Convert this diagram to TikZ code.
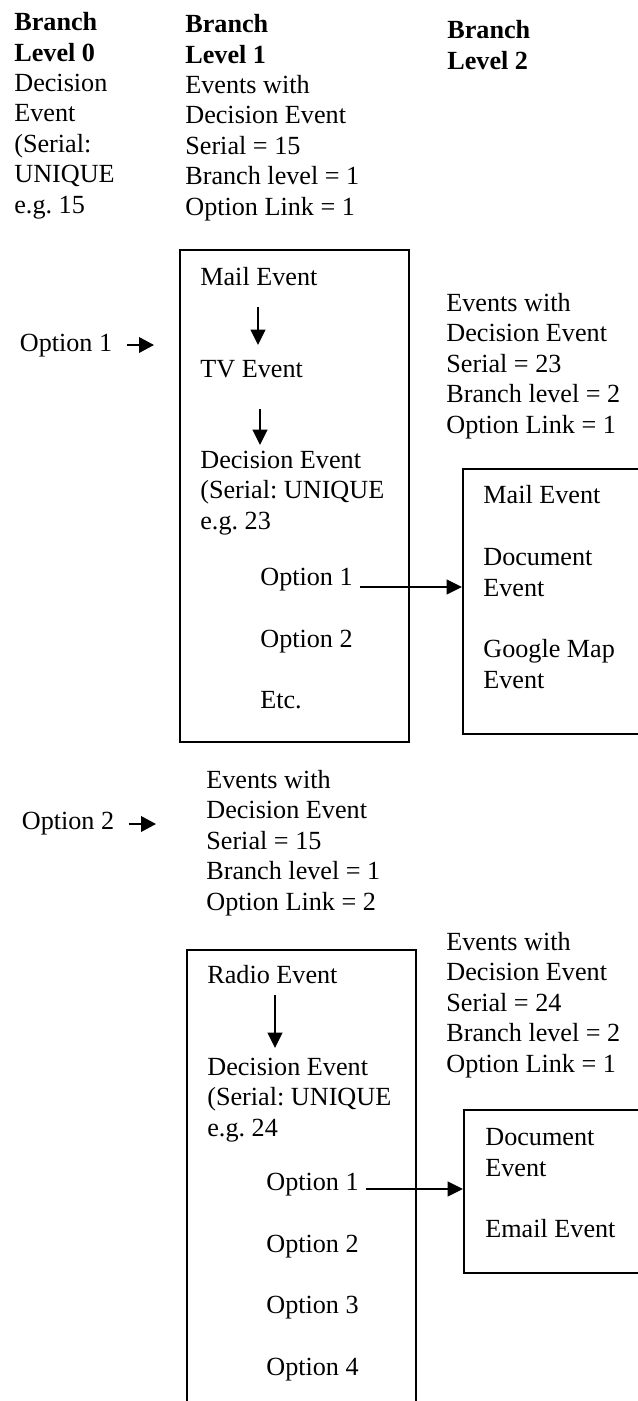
\documentclass[tikz,border=0pt]{standalone}
\usepackage{fontspec}
\setmainfont{Liberation Serif}
\usetikzlibrary{arrows.meta,calc}
\frenchspacing

\begin{document}
\begin{tikzpicture}[x=0.02cm, y=-0.02cm]
			\tikzset{texte/.style={anchor=base west, inner sep=0pt, align=left, font=\fontsize{14.9}{17.3}\selectfont},
				boite/.style={draw, line width=1.1pt, anchor=north west, inner sep=0pt},
				fleche/.style={-{Triangle[length=3.1mm, width=3mm]}, line width=0.9pt},
				flechecourte/.style={-{Triangle[length=3mm, width=3.1mm]}, line width=1.2pt}};

			\useasboundingbox (0,0) rectangle (637,1401);

			% en-tetes (base = derniere ligne)
			\node[texte] (h0) at ( 14, 213) {\textbf{Branch}\\\textbf{Level 0}\\Decision\\Event\\(Serial:\\UNIQUE\\e.g. 15};
			\node[texte] (h1) at (185, 215) {\textbf{Branch}\\\textbf{Level 1}\\Events with\\Decision Event\\Serial = 15\\Branch level = 1\\Option Link = 1};
			\node[texte] (h2) at (447,  69) {\textbf{Branch}\\\textbf{Level 2}};

			% option 1
			\node[texte] (opt1g) at (19.5, 351) {Option 1};
			\node[boite, minimum width=4.58cm, minimum height=9.84cm] (boite1) at (179, 249) {};
			\node[texte] (mail1) at (200, 285) {Mail Event};
			\node[texte] (tv1)   at (200, 377) {TV Event};
			\node[texte] (dec1)  at (200, 529) {Decision Event\\(Serial: UNIQUE\\e.g. 23};
			\node[texte] (o11)   at (260, 585) {Option 1};
			\node[texte] (o12)   at (260, 647) {Option 2};
			\node[texte] (etc1)  at (260, 708) {Etc.};

			\node[texte] (info1) at (446, 433) {Events with\\Decision Event\\Serial = 23\\Branch level = 2\\Option Link = 1};
			\node[boite, minimum width=4.76cm, minimum height=5.3cm] (boite2) at (462, 468) {};
			\node[texte] (mail2) at (483, 503) {Mail Event};
			\node[texte] (doc2)  at (483, 596) {Document\\Event};
			\node[texte] (gmap2) at (483, 688) {Google Map\\Event};

			% option 2
			\node[texte] (opt2g) at (21.5, 829) {Option 2};
			\node[texte] (info2) at (206, 910) {Events with\\Decision Event\\Serial = 15\\Branch level = 1\\Option Link = 2};
			\node[boite, minimum width=4.58cm, minimum height=10.1cm] (boite3) at (186, 949) {};
			\node[texte] (radio3) at (207, 983) {Radio Event};
			\node[texte] (dec3)   at (207, 1136) {Decision Event\\(Serial: UNIQUE\\e.g. 24};
			\node[texte] (o31)    at (266, 1190) {Option 1};
			\node[texte] (o32)    at (266, 1252) {Option 2};
			\node[texte] (o33)    at (266, 1313) {Option 3};
			\node[texte] (o34)    at (266, 1375) {Option 4};

			\node[texte] (info3) at (446, 1072) {Events with\\Decision Event\\Serial = 24\\Branch level = 2\\Option Link = 1};
			\node[boite, minimum width=4.76cm, minimum height=3.26cm] (boite4) at (463, 1109) {};
			\node[texte] (doc4)   at (485, 1176) {Document\\Event};
			\node[texte] (email4) at (485, 1237) {Email Event};

			\draw[flechecourte] ($(opt1g.base east)+(14,-6)$) -- ($(opt1g.base east -| boite1.west)+(-25,-6)$);
			\draw[flechecourte] ($(opt2g.base east)+(14,-5)$) -- ($(opt2g.base east -| boite3.west)+(-30,-5)$);

			\draw[fleche] ($(mail1.base west)+(58,22)$) -- ($(tv1.base west)+(58,-32)$);
			\draw[fleche] ($(tv1.base west)+(60,32)$) -- ($(dec1.base west)+(60,-84)$);
			\draw[fleche] ($(radio3.base west)+(68,12)$) -- ($(dec3.base west)+(68,-88)$);

			\draw[fleche] ($(o11.base east)+(6.5,2)$) -- ($(o11.base east -| boite2.west)+(0,2)$);
			\draw[fleche] ($(o31.base east)+(6.5,-1)$) -- ($(o31.base east -| boite4.west)+(0,-1)$);

		\end{tikzpicture}
\end{document}
